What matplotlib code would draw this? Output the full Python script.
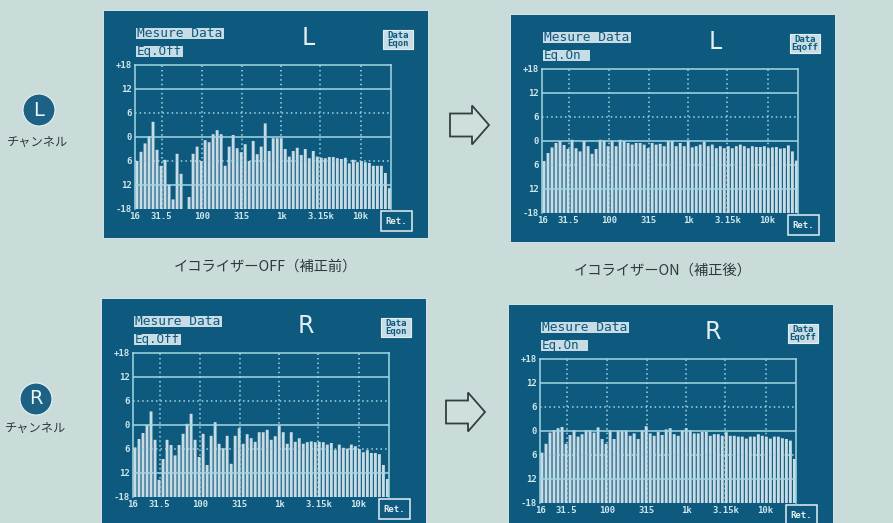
import matplotlib
matplotlib.use("Agg")
import matplotlib.pyplot as plt
from matplotlib.patches import Rectangle, Circle, Polygon

W, H = 893, 523
BG = "#cadcd9"
PANEL = "#0d5a7e"
BAR = "#c8dce6"
LINE = "#a4d6e2"
MONO = "DejaVu Sans Mono"
JP = ["Noto Sans CJK JP", "DejaVu Sans"]

freq_labels = ["16", "31.5", "100", "315", "1k", "3.15k", "10k"]
freq_ticks = [0, 6.67, 16.67, 26.67, 36.5, 46.3, 56.3]
db_ticks = [18, 12, 6, 0, -6, -12, -18]
db_labels = ["+18", "12", "6", "0", "6", "12", "-18"]

left_off = [-6, -3.7, -1.6, 0.2, 3.8, -3.2, -7.2, -5.7, -12, -15.6, -4.2, -9.2, -18, -15,
            -4.2, -2.4, -6, -0.8, -1.3, 0.7, 1.7, 0.7, -7.2, -2.4, 0.5, -2.8, -3.8, -1.8,
            -6, -1, -4.3, -2.4, 3.4, -3.5, -0.3, -0.3, -0.3, -3, -4.9, -3.5, -2.7, -4.5,
            -3, -5.3, -3.5, -4.9, -5.2, -5.3, -5, -5, -5.3, -5.5, -5.2, -6.6, -5.7, -6.3,
            -6, -6.3, -6.5, -7.2, -7.2, -7.2, -9, -12.8]

left_on = [-5, -3, -1.6, -0.5, 0, -1, -2, 0.3, -1.8, -2.6, 0, -1.3, -3.2, -2, 0.3, 0.1,
           -1.3, 0, -1.3, 0.3, 0, -0.5, -0.9, -0.5, -0.5, -0.9, -1.8, -0.5, -0.9, -0.7,
           -1.3, 0, 0, -1.3, -0.5, -1.3, 0.1, -1.6, -1.3, -0.9, -0.2, -1.3, -0.9, -1.8,
           -1.3, -1.8, -1.3, -1.8, -1.3, -0.9, -1.3, -1.8, -1.3, -1.5, -1.5, -1.3, -1.8,
           -1.6, -1.5, -1.9, -1.8, -1.1, -2.6, -4.9]

right_off = [-5.6, -3.5, -2, 0, 3.4, -3.7, -13.7, -8.5, -3.7, -5, -7.6, -5, -2.2, 0.3, 2.8,
             -3.7, -8, -2.2, -10, -2.7, 0.7, -4.7, -5.8, -2.7, -9.7, -2.7, -0.8, -4.7,
             -2.3, -3.3, -4.2, -1.8, -1.8, -1.2, -3.7, -2.8, -0.2, -1.8, -4.7, -1.8, -4.2,
             -3.3, -4.7, -4.3, -4.1, -4.3, -4.2, -4.3, -4.9, -4.5, -6.2, -4.9, -5.7, -5.9,
             -4.9, -5.3, -6, -6.8, -6.3, -7, -7, -7.3, -10, -13.5]

right_on = [-5.4, -3.2, -0.4, 0.2, 0.7, 1, -3.2, -1, 0.2, -1.4, -0.8, 0.2, 0.2, -0.4, 0.9,
            -2, -3.2, 0.2, -2, 0.1, 0.1, 0.1, -1.2, -0.6, -2, 0.2, 1.2, -0.6, -1.2, -0.2,
            -1, 0.4, 0.7, -0.8, -1.2, 0.2, 0.7, 0.2, -0.6, -0.6, -0.2, -0.2, -1.2, -0.8,
            -0.8, -1.2, -0.3, -1.2, -1.2, -1.4, -1.4, -1.9, -1.4, -1.4, -0.8, -1.2, -1.4,
            -1.9, -1.4, -1.4, -1.8, -2, -2.4, -7]

fig = plt.figure(figsize=(W / 100, H / 100), dpi=100, facecolor=BG)
ov = fig.add_axes([0, 0, 1, 1], zorder=0)
ov.set_xlim(0, W)
ov.set_ylim(H, 0)
ov.axis("off")


def panel(px, py, values, letter, eq, softkey):
    pw, ph = 256, 144
    ov.add_patch(Rectangle((px - 32, py - 55), 325, 228, fc=PANEL, ec="#e4eeee", lw=0.6))
    ax = fig.add_axes([px / W, 1 - (py + ph) / H, pw / W, ph / H], zorder=1)
    ax.patch.set_alpha(0)
    ax.set_xlim(0, 63.9)
    ax.set_ylim(-18, 18)
    xs = [i + 0.5 for i in range(len(values))]
    bars = ax.bar(xs, [v + 18 for v in values], bottom=-18, width=0.72, color=BAR,
                  zorder=2, lw=0)
    for b in bars:
        b.set_snap(False)
    for y in db_ticks[1:-1]:
        if y % 12 == 0:
            ax.axhline(y, color=LINE, lw=1.1, zorder=3)
        else:
            ax.axhline(y, color=LINE, lw=1.1, ls=(0, (1, 2)), zorder=3)
    for x in freq_ticks[1:]:
        ax.axvline(x, color=LINE, lw=1.1, ls=(0, (1, 2)), zorder=1)
    ax.set_xticks(freq_ticks, freq_labels)
    ax.set_yticks(db_ticks, db_labels)
    ax.tick_params(length=0, colors="#cfe6ec", labelsize=6.5, pad=2)
    for t in ax.get_xticklabels() + ax.get_yticklabels():
        t.set_family(MONO)
        t.set_weight("bold")
    for s in ax.spines.values():
        s.set_color(LINE)
        s.set_linewidth(1.1)
    ax.spines["bottom"].set_visible(False)

    # screen furniture
    ov.add_patch(Rectangle((px + 1, py - 37), 88, 11, fc=BAR, lw=0))
    ov.text(px + 45, py - 31.5, "Mesure Data", family=MONO, size=9.3, color=PANEL,
            ha="center", va="center")
    ov.add_patch(Rectangle((px + 1, py - 19), 47, 11, fc=BAR, lw=0))
    ov.text(px + 2, py - 13.5, eq, family=MONO, size=9, color=PANEL, ha="left",
            va="center")
    ov.text(px + 173, py - 27, letter, family="DejaVu Sans", size=17, color="#e4eff2",
            ha="center", va="center")
    ov.add_patch(Rectangle((px + 248, py - 35), 30, 19, fc=BAR, ec="#e4eff2", lw=0.8))
    ov.text(px + 263, py - 25.5, "Data\n" + softkey, family=MONO, size=6.5, color=PANEL,
            ha="center", va="center", weight="bold", linespacing=0.95)
    ov.add_patch(Rectangle((px + 246, py + 146), 31, 20, fc=PANEL, ec="#e4eff2", lw=1.1))
    ov.text(px + 261.5, py + 156, "Ret.", family=MONO, size=6.5, color="#e4eff2",
            ha="center", va="center", weight="bold")


panel(135, 65, left_off, "L", "Eq.Off", "Eqon")
panel(542, 69, left_on, "L", "Eq.On", "Eqoff")
panel(133, 353, right_off, "R", "Eq.Off", "Eqon")
panel(540, 359, right_on, "R", "Eq.On", "Eqoff")

# captions
ov.text(265, 267, "イコライザーOFF（補正前）", family=JP, size=10.3, color="#2c3a3c",
        ha="center", va="center")
ov.text(663, 271, "イコライザーON（補正後）", family=JP, size=10.3, color="#2c3a3c",
        ha="center", va="center")

# channel badges
for cx, cy, ch, tx, ty in [(39, 110, "L", 38, 142), (36, 399, "R", 36, 428)]:
    ov.add_patch(Circle((cx, cy), 16, fc="#1d6285", ec="#e6f1f1", lw=0.8))
    ov.text(cx, cy, ch, family="DejaVu Sans", size=14, color="#ecf3f5", ha="center",
            va="center")
    ov.text(tx, ty, "チャンネル", family=JP, size=8.8, color="#2c3a3c", ha="center",
            va="center")


# hollow block arrows
def arrow(x, y):
    pts = [(x, y - 11.5), (x + 22, y - 11.5), (x + 22, y - 19.5), (x + 39, y),
           (x + 22, y + 19.5), (x + 22, y + 11.5), (x, y + 11.5)]
    ov.add_patch(Polygon(pts, closed=True, fc="#cfe0dc", ec="#333f42", lw=1.3))


arrow(450, 125)
arrow(446, 412)

fig.savefig("out.png", dpi=100, facecolor=BG)
